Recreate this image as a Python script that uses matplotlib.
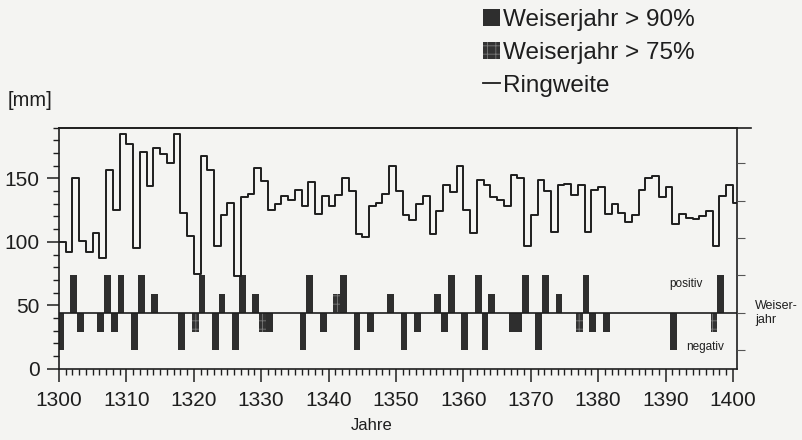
import numpy as np
import matplotlib.pyplot as plt
from matplotlib.patches import Patch
from matplotlib.lines import Line2D
from matplotlib.ticker import MultipleLocator

plt.rcParams['font.family'] = ['Liberation Sans', 'DejaVu Sans']
plt.rcParams['hatch.linewidth'] = 0.6

# Ringweite [mm], 1300-1400
jahre = np.arange(1300, 1401)
ringweite = [100, 92, 150, 101, 92, 107, 87, 157, 125, 185,
             177, 95, 171, 144, 174, 169, 162, 185, 123, 105,
             75, 168, 157, 97, 121, 131, 73, 135, 138, 158,
             148, 125, 130, 136, 133, 141, 128, 147, 122, 136,
             128, 137, 150, 140, 106, 104, 128, 131, 138, 160,
             140, 121, 117, 130, 136, 106, 124, 145, 139, 160,
             125, 107, 149, 145, 135, 133, 128, 153, 150, 97,
             121, 149, 140, 108, 145, 146, 137, 145, 108, 141,
             143, 122, 130, 123, 116, 121, 141, 150, 152, 135,
             143, 114, 122, 119, 118, 120, 124, 97, 136, 145,
             131]

# Weiserjahre: Jahr, Richtung/Intensitaet (+-1 stark, +-0.5 schwach), Klasse (90 oder 75 %)
weiser_jahr = [1300, 1302, 1303, 1306, 1307, 1308, 1309, 1311, 1312, 1314,
               1318, 1320, 1321, 1323, 1324, 1326, 1327, 1329, 1330, 1331,
               1336, 1337, 1339, 1341, 1342, 1344, 1346, 1349, 1351, 1353,
               1356, 1357, 1358, 1360, 1362, 1363, 1364, 1367, 1368, 1369,
               1371, 1372, 1374, 1377, 1378, 1379, 1381, 1391, 1397, 1398]
weiser_wert = [-1, 1, -0.5, -0.5, 1, -0.5, 1, -1, 1, 0.5,
               -1, -0.5, 1, -1, 0.5, -1, 1, 0.5, -0.5, -0.5,
               -1, 1, -0.5, 0.5, 1, -1, -0.5, 0.5, -1, -0.5,
               0.5, -0.5, 1, -1, 1, -1, 0.5, -0.5, -0.5, 1,
               -1, 1, 0.5, -0.5, 1, -0.5, -0.5, -1, -0.5, 1]
weiser_klasse = [90, 90, 90, 90, 90, 90, 90, 90, 90, 90,
                 90, 75, 90, 90, 90, 90, 90, 90, 75, 90,
                 90, 90, 90, 75, 90, 90, 90, 90, 90, 90,
                 90, 90, 90, 90, 90, 90, 90, 90, 90, 90,
                 90, 90, 90, 75, 90, 90, 90, 90, 75, 90]

basis = 44.0      # Lage der Weiserjahr-Nulllinie
ampl = 29.5       # Hoehe eines starken Weiserjahres

bg = '#f4f4f2'
ink = '#1e1e1e'
balken = '#2e2e2e'
schraff_face = '#333333'
schraff_col = '#7a7a7a'

fig = plt.figure(figsize=(8.02, 4.40), dpi=100, facecolor=bg)
ax = fig.add_axes([59 / 802, 71.3 / 440, 678 / 802, 241 / 440])
ax.set_facecolor(bg)

# Ringweitenkurve als Treppe
x_step = np.append(jahre, jahre[-1] + 1)
y_step = np.append(ringweite, ringweite[-1])
ax.step(x_step, y_step, where='post', color=ink, lw=1.4, zorder=3)

# Weiserjahr-Balken
wj = np.array(weiser_jahr)
ww = np.array(weiser_wert)
wk = np.array(weiser_klasse)
m90 = wk == 90
m75 = wk == 75
ax.bar(wj[m90] - 0.3, ww[m90] * ampl, bottom=basis, width=1.0, align='edge',
       color=balken, lw=0, zorder=2)
ax.bar(wj[m75] - 0.3, ww[m75] * ampl, bottom=basis, width=1.0, align='edge',
       facecolor=schraff_face, edgecolor=schraff_col, hatch='++', lw=0, zorder=2)
ax.axhline(basis, color=ink, lw=1.2, zorder=4)

ax.set_xlim(1300, 1400.6)
ax.set_ylim(0, 190)

ax.xaxis.set_major_locator(MultipleLocator(10))
ax.xaxis.set_minor_locator(MultipleLocator(1))
ax.yaxis.set_major_locator(MultipleLocator(50))
ax.yaxis.set_minor_locator(MultipleLocator(10))
ax.tick_params(axis='both', which='major', direction='out', length=9, width=1.1,
               color=ink, labelsize=15, labelcolor=ink)
ax.tick_params(axis='x', which='major', pad=7)
ax.tick_params(axis='y', which='major', pad=5)
ax.tick_params(axis='both', which='minor', direction='out', length=4.5, width=1.0, color=ink)

for s in ax.spines.values():
    s.set_color(ink)
    s.set_linewidth(1.2)

# rechte Achse: Skala der Weiserjahre
ax2 = ax.twinx()
ax2.set_ylim(0, 190)
ax2.set_yticks([basis + k * ampl for k in range(-1, 5)])
ax2.tick_params(axis='y', direction='out', length=6, width=0.8, color='#555555',
                labelright=False)
for s in ax2.spines.values():
    s.set_visible(False)

# obere Linie etwas ueber den Rahmen hinaus verlaengert
ax.plot([0, 1.02], [1, 1], transform=ax.transAxes, color=ink, lw=1.2, clip_on=False)

ax.text(1390.5, 67, 'positiv', fontsize=8.5, color=ink, ha='left', va='center')
ax.text(1393, 17, 'negativ', fontsize=8.5, color=ink, ha='left', va='center')
ax.text(1403.3, basis, 'Weiser-\njahr', fontsize=9, color=ink, ha='left', va='center',
        linespacing=1.3)

fig.text(8 / 802, 1 - 100 / 440, '[mm]', fontsize=14.5, color=ink, ha='left', va='center')
fig.text(372 / 802, 1 - 425 / 440, 'Jahre', fontsize=12, color=ink, ha='center', va='center')

handles = [Patch(facecolor=balken, lw=0),
           Patch(facecolor=schraff_face, edgecolor=schraff_col, hatch='++', lw=0),
           Line2D([], [], color=ink, lw=1.3)]
labels = ['Weiserjahr > 90%', 'Weiserjahr > 75%', 'Ringweite']
fig.legend(handles, labels, loc='upper left', bbox_to_anchor=(483 / 802, 1 - 9 / 440),
           frameon=False, fontsize=17.5, handlelength=0.72, handleheight=0.68,
           handletextpad=0.12, labelspacing=0.45, borderpad=0, borderaxespad=0,
           labelcolor=ink)

fig.savefig('out.png', dpi=100, facecolor=bg)
